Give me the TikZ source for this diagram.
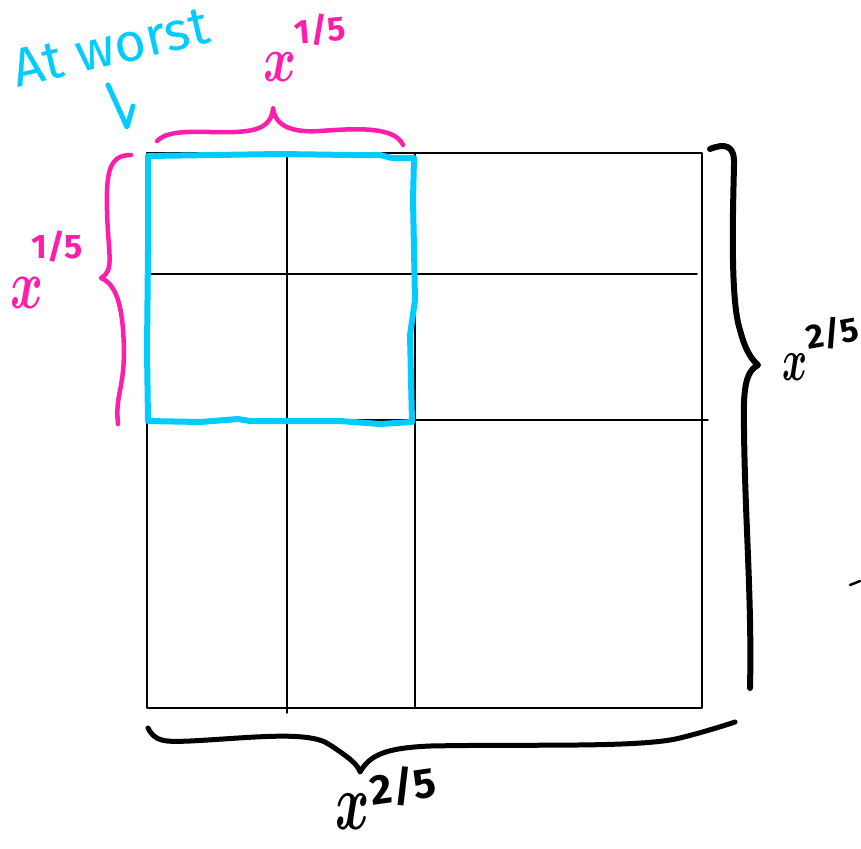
\documentclass[tikz,border=0pt]{standalone}
\usepackage{graphicx}
\usepackage{fontspec}
\setmainfont{Fira Sans}
\definecolor{skyc}{RGB}{0,204,255}
\definecolor{pinkc}{RGB}{255,30,172}
\tikzset{
  gridline/.style={draw=black, line width=1.4pt},
  bluebox/.style={draw=skyc, line width=6pt, line join=round, line cap=round},
  pinkbrace/.style={draw=pinkc, line width=4.5pt, line cap=round},
  blackbrace/.style={draw=black, line width=6pt, line cap=round},
  bigx/.style={inner sep=0pt},
  expo/.style={inner sep=0pt, font=\fontsize{34}{34}\selectfont\bfseries},
}
\newcommand{\hx}[2]{\scalebox{#1}[#2]{\boldmath$x$}}
\begin{document}
\begin{tikzpicture}[x=1pt,y=-1pt, line cap=round, line join=round]
\useasboundingbox (0,0) rectangle (861,848);
\fill[white] (0,0) rectangle (861,848);
% grid
\draw[gridline] (147,153) rectangle (702,708);
\draw[gridline] (287,153) -- (287,713);
\draw[gridline] (415,153) -- (415,708);
\draw[gridline] (147,274) -- (697,274);
\draw[gridline] (147,420) -- (708,420);
% blue square
\draw[bluebox] (148,156) -- (280,154) -- (350,155) -- (380,155) -- (392,158) -- (414,158)
  -- (413,200) -- (415,300) -- (410,335) -- (412,422)
  -- (380,424) -- (340,421) -- (250,421) -- (238,419) -- (200,422) -- (148,421)
  -- (147,350) -- (148,250) -- cycle;
% at worst
\node[text=skyc, inner sep=0pt, rotate=13, font=\fontsize{54}{54}\selectfont] (atw) at (111,47) {At worst};
\draw[draw=skyc, line width=5pt] (108,85) -- (127,127) -- (133,106);
% top pink brace
\draw[pinkbrace] (157,141) .. controls (170,128) and (200,133) .. (235,132)
  .. controls (260,131) and (272,125) .. (273,108)
  .. controls (275,125) and (290,133) .. (320,131)
  .. controls (360,128) and (395,127) .. (403,145);
\node[bigx, text=pinkc] (tx) at (280,67) {\hx{5}{6.5}};
\node[expo, text=pinkc, rotate=5] (te) at (320,30) {1/5};
% left pink brace
\draw[pinkbrace] (131,155) .. controls (110,155) and (106,170) .. (107,210)
  .. controls (108,255) and (115,270) .. (101,278)
  .. controls (118,285) and (123,310) .. (124,350)
  .. controls (124,390) and (115,395) .. (118,424);
\node[bigx, text=pinkc] (lx) at (27,293) {\hx{5}{7}};
\node[expo, text=pinkc] (le) at (57,247) {1/5};
% right black brace
\draw[blackbrace] (710,149) .. controls (725,143) and (735,145) .. (734,165)
  .. controls (733,210) and (730,300) .. (740,330)
  .. controls (745,350) and (752,360) .. (758,365)
  .. controls (745,372) and (743,390) .. (744,430)
  .. controls (745,520) and (752,600) .. (750,688);
\node[bigx] (rx) at (795,367) {\hx{3.8}{6}};
\node[expo, rotate=10] (re) at (832,333) {2/5};
% bottom black brace
\draw[blackbrace, line width=5pt] (148,728) .. controls (155,742) and (165,742) .. (190,741)
  .. controls (250,738) and (310,730) .. (330,745)
  .. controls (350,758) and (358,765) .. (360,772)
  .. controls (370,755) and (385,748) .. (430,746)
  .. controls (530,744) and (640,748) .. (680,738)
  .. controls (700,733) and (720,727) .. (735,722);
\node[bigx] (bx) at (353,812) {\hx{5.2}{8}};
\node[expo, font=\fontsize{42}{42}\selectfont\bfseries, rotate=8] (be) at (403,786) {2/5};
% stray mark
\draw[line width=2.5pt] (850,585) -- (860,581);
\end{tikzpicture}
\end{document}
